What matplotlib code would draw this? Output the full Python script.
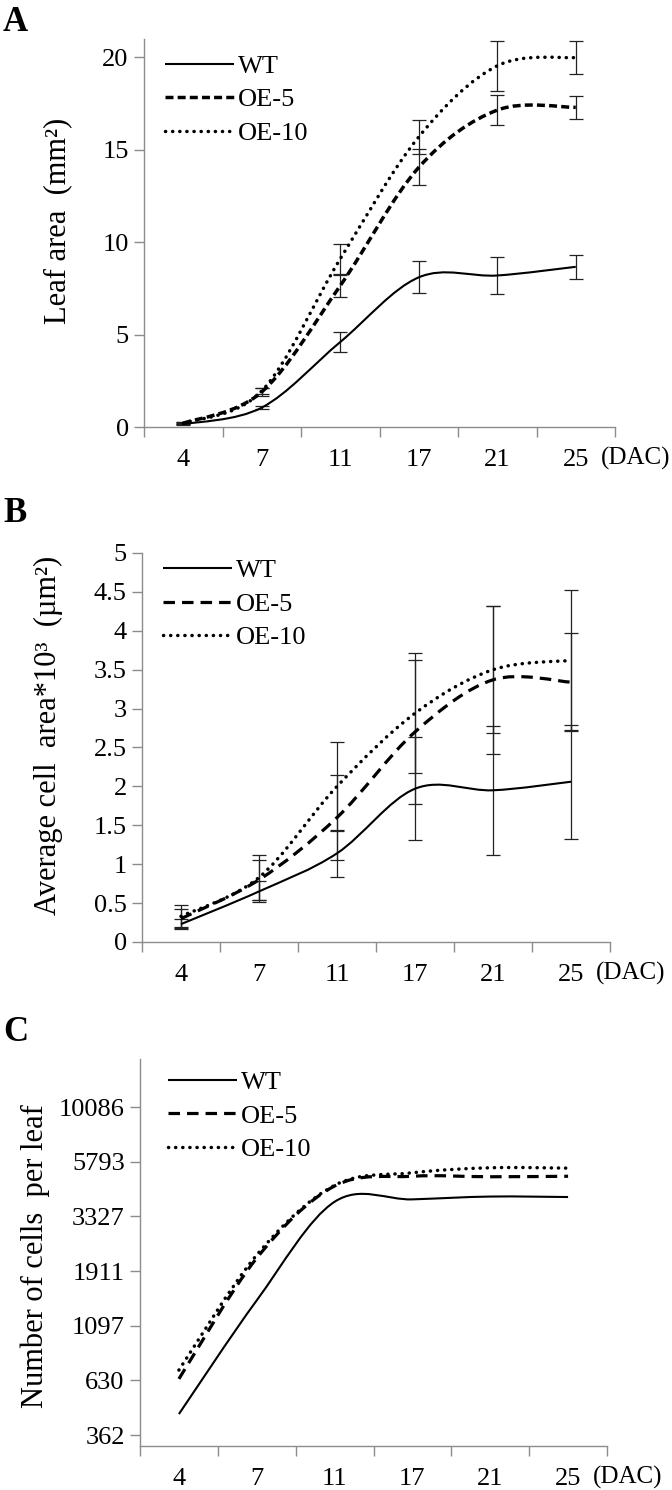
import numpy as np
import matplotlib
matplotlib.use("Agg")
import matplotlib.pyplot as plt
from matplotlib.path import Path
from matplotlib.patches import PathPatch
from matplotlib.lines import Line2D

plt.rcParams['font.family'] = 'serif'
plt.rcParams['font.serif'] = ['Liberation Serif', 'Times New Roman', 'DejaVu Serif']

# ---------------- data ----------------
days = ["4", "7", "11", "17", "21", "25"]
series = ["WT", "OE-5", "OE-10"]

# Panel A: leaf area (mm2)
leaf_wt = [0.15, 1.05, 4.6, 8.1, 8.2, 8.67]
leaf_wt_err = [0.05, 0.1, 0.54, 0.87, 0.98, 0.65]
leaf_oe5 = [0.2, 1.9, 7.65, 14.05, 17.15, 17.3]
leaf_oe5_err = [0.05, 0.2, 0.6, 0.97, 0.8, 0.62]
leaf_oe10 = [0.2, 1.95, 9.1, 15.7, 19.55, 20.0]
leaf_oe10_err = [0.05, 0.15, 0.83, 0.9, 1.35, 0.9]

# Panel B: average cell area *10^3 (um2)
cell_wt = [0.23, 0.65, 1.14, 1.97, 1.95, 2.06]
cell_wt_err = [0.06, 0.13, 0.30, 0.66, 0.83, 0.73]
cell_oe5 = [0.30, 0.80, 1.60, 2.70, 3.37, 3.34]
cell_oe5_err = [0.12, 0.26, 0.55, 0.92, 0.95, 0.63]
cell_oe10 = [0.33, 0.83, 2.00, 2.94, 3.50, 3.62]
cell_oe10_err = [0.14, 0.29, 0.57, 0.77, 0.82, 0.90]

# Panel C: number of cells per leaf
num_wt = [448, 1420, 3860, 3955, 4070, 4050]
num_oe5 = [640, 2180, 4530, 5000, 4975, 5000]
num_oe10 = [700, 2250, 4560, 5180, 5450, 5430]
c_ticks = [362, 630, 1097, 1911, 3327, 5793, 10086]

# ---------------- helpers ----------------
STY = {
    "WT": dict(lw=1.5, ls="solid", cap="butt"),
    "OE-5A": dict(lw=2.5, ls=(0, (2.3, 1.2)), cap="butt"),
    "OE-5": dict(lw=2.3, ls=(0, (3.6, 2.2)), cap="butt"),
    "OE-10": dict(lw=2.5, ls=(0, (0.05, 2.0)), cap="round"),
}


def smooth(ax, xs, ys, style, log=False):
    X = np.asarray(xs, float)
    Y = np.log10(np.asarray(ys, float)) if log else np.asarray(ys, float)
    n = len(X)
    verts = [(X[0], Y[0])]
    codes = [Path.MOVETO]
    for i in range(n - 1):
        a = i - 1 if i > 0 else i
        d = i + 2 if i + 2 < n else i + 1
        c1 = (X[i] + (X[i + 1] - X[a]) / 6.0, Y[i] + (Y[i + 1] - Y[a]) / 6.0)
        c2 = (X[i + 1] - (X[d] - X[i]) / 6.0, Y[i + 1] - (Y[d] - Y[i]) / 6.0)
        verts += [c1, c2, (X[i + 1], Y[i + 1])]
        codes += [Path.CURVE4] * 3
    verts = np.array(verts)
    if log:
        verts[:, 1] = 10 ** verts[:, 1]
    s = STY[style]
    p = PathPatch(Path(verts, codes), fill=False, edgecolor="black",
                  lw=s["lw"], linestyle=s["ls"], capstyle=s["cap"], zorder=3)
    ax.add_patch(p)


def handle(style):
    s = STY[style]
    return Line2D([], [], color="black", lw=s["lw"], linestyle=s["ls"],
                  dash_capstyle=s["cap"], solid_capstyle="butt")


def style_axes(ax):
    gray = "#8c8c8c"
    for sp in ["top", "right"]:
        ax.spines[sp].set_visible(False)
    for sp in ["left", "bottom"]:
        ax.spines[sp].set_color(gray)
        ax.spines[sp].set_linewidth(1.0)
    ax.set_xlim(-0.5, 5.5)
    ax.set_xticks(np.arange(-0.5, 5.6, 1.0))
    ax.set_xticklabels([])
    ax.set_xticks(np.arange(6), minor=True)
    ax.set_xticklabels(days, minor=True)
    ax.tick_params(axis="x", which="major", length=7, color=gray, width=1.0)
    ax.tick_params(axis="x", which="minor", length=0, pad=16, labelsize=19)
    ax.tick_params(axis="y", which="both", length=7, color=gray, width=1.0,
                   labelsize=19, pad=4)
    ax.text(1.0 - 0.03, -0.082, "(DAC)", transform=ax.transAxes, fontsize=18,
            ha="left", va="center")


W, H = 672, 1490
fig = plt.figure(figsize=(W / 100, H / 100), dpi=100)


def axes_px(left, right, top, bottom):
    return fig.add_axes([left / W, 1 - bottom / H, (right - left) / W, (bottom - top) / H])


x = np.arange(6)
LEG = dict(loc="upper left", frameon=False, fontsize=19, handlelength=2.6,
           handletextpad=0.15, labelspacing=0.38, borderaxespad=0, borderpad=0)

# ---------------- Panel A ----------------
axA = axes_px(144, 615, 39, 427)
style_axes(axA)
axA.set_ylim(0, 21)
axA.set_yticks([0, 5, 10, 15, 20])
for ys, err in [(leaf_wt, leaf_wt_err), (leaf_oe5, leaf_oe5_err), (leaf_oe10, leaf_oe10_err)]:
    axA.errorbar(x, ys, yerr=err, fmt="none", ecolor="#222222", elinewidth=0.9,
                 capsize=5, capthick=0.9, zorder=2)
smooth(axA, x, leaf_wt, "WT")
smooth(axA, x, leaf_oe5, "OE-5A")
smooth(axA, x, leaf_oe10, "OE-10")
axA.legend([handle("WT"), handle("OE-5A"), handle("OE-10")], series,
           bbox_to_anchor=(0.045, 0.96), **LEG)
axA.set_ylabel("Leaf area  (mm²)", fontsize=22)
axA.yaxis.set_label_coords(-0.153, 0.53)

# ---------------- Panel B ----------------
axB = axes_px(142, 610, 553, 942)
style_axes(axB)
axB.set_ylim(0, 5)
bt = np.arange(0, 5.01, 0.5)
axB.set_yticks(bt)
axB.set_yticklabels(["0", "0.5", "1", "1.5", "2", "2.5", "3", "3.5", "4", "4.5", "5"])
for ys, err in [(cell_wt, cell_wt_err), (cell_oe5, cell_oe5_err), (cell_oe10, cell_oe10_err)]:
    axB.errorbar(x, ys, yerr=err, fmt="none", ecolor="#222222", elinewidth=0.9,
                 capsize=5, capthick=0.9, zorder=2)
smooth(axB, x, cell_wt, "WT")
smooth(axB, x, cell_oe5, "OE-5")
smooth(axB, x, cell_oe10, "OE-10")
axB.legend([handle("WT"), handle("OE-5"), handle("OE-10")], series,
           bbox_to_anchor=(0.045, 0.985), **LEG)
axB.set_ylabel("Average cell  area*10³  (µm²)", fontsize=22)
axB.yaxis.set_label_coords(-0.169, 0.53)

# ---------------- Panel C ----------------
axC = axes_px(140, 607, 1059, 1446)
style_axes(axC)
axC.set_yscale("log")
axC.set_ylim(324, 16430)
axC.set_yticks(c_ticks)
axC.set_yticklabels([str(t) for t in c_ticks])
axC.yaxis.set_minor_locator(matplotlib.ticker.NullLocator())
smooth(axC, x, num_wt, "WT", log=True)
smooth(axC, x, num_oe5, "OE-5", log=True)
smooth(axC, x, num_oe10, "OE-10", log=True)
axC.legend([handle("WT"), handle("OE-5"), handle("OE-10")], series,
           bbox_to_anchor=(0.06, 0.97), **LEG)
axC.set_ylabel("Number of cells  per leaf", fontsize=22)
axC.yaxis.set_label_coords(-0.193, 0.49)

# panel letters
for lab, ytop in [("A", 6), ("B", 497), ("C", 1016)]:
    fig.text(3 / W, 1 - ytop / H, lab, fontsize=25, fontweight="bold",
             ha="left", va="top")

fig.savefig("out.png", dpi=100)
